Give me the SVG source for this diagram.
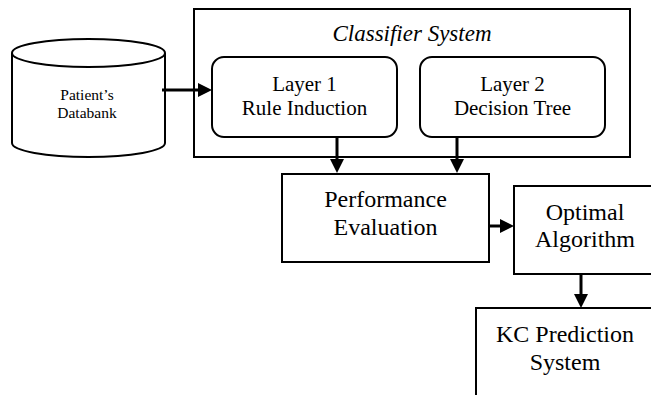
<svg xmlns="http://www.w3.org/2000/svg" width="651" height="395" viewBox="0 0 651 395">
  <style>
    .box { fill: #ffffff; stroke: #000000; stroke-width: 2; }
    .conn { stroke: #000000; stroke-width: 3; fill: none; }
    .lbl { font-family: "Liberation Serif", "Times New Roman", serif; fill: #000000; text-anchor: middle; }
    .t15 { font-size: 15.5px; }
    .t21 { font-size: 21px; }
    .t24 { font-size: 24px; }
    .title { font-size: 23px; font-style: italic; }
  </style>
  <defs>
    <marker id="arrow" markerUnits="userSpaceOnUse" markerWidth="14" markerHeight="14" refX="2" refY="7" orient="auto">
      <path d="M0,0 L14,7 L0,14 Z" fill="#000000"/>
    </marker>
  </defs>
  <rect width="651" height="395" fill="#ffffff"/>

  <g id="classifier-system">
    <rect class="box" x="194" y="9" width="436" height="148"/>
    <text class="lbl title" x="412" y="41">Classifier System</text>
  </g>

  <g id="databank">
    <path class="box" d="M12,53 L12,143 A76.5,14 0 0 0 165,143 L165,53 A76.5,14 0 0 0 12,53 Z"/>
    <path class="box" fill="none" d="M12,53 A76.5,14 0 0 0 165,53"/>
    <text class="lbl t15" x="87" y="100">Patient’s</text>
    <text class="lbl t15" x="87" y="118">Databank</text>
  </g>

  <g id="layer1">
    <rect class="box" x="212" y="57" width="185" height="80" rx="12" ry="12"/>
    <text class="lbl t21" x="304.5" y="91">Layer 1</text>
    <text class="lbl t21" x="304.5" y="115">Rule Induction</text>
  </g>

  <g id="layer2">
    <rect class="box" x="420" y="57" width="185" height="80" rx="12" ry="12"/>
    <text class="lbl t21" x="512.5" y="91">Layer 2</text>
    <text class="lbl t21" x="512.5" y="115">Decision Tree</text>
  </g>

  <g id="performance">
    <rect class="box" x="282" y="174" width="207" height="88"/>
    <text class="lbl t24" x="385.5" y="207">Performance</text>
    <text class="lbl t24" x="385.5" y="235">Evaluation</text>
  </g>

  <g id="optimal">
    <rect class="box" x="514" y="186" width="150" height="88"/>
    <text class="lbl t24" x="585" y="220">Optimal</text>
    <text class="lbl t24" x="585" y="247">Algorithm</text>
  </g>

  <g id="kc-prediction">
    <rect class="box" x="476" y="308" width="190" height="100"/>
    <text class="lbl t24" x="565" y="342">KC Prediction</text>
    <text class="lbl t24" x="565" y="370">System</text>
  </g>

  <g id="connectors">
    <line class="conn" x1="162" y1="90" x2="200" y2="90" marker-end="url(#arrow)"/>
    <line class="conn" x1="337" y1="137" x2="337" y2="161" marker-end="url(#arrow)"/>
    <line class="conn" x1="457" y1="137" x2="457" y2="161" marker-end="url(#arrow)"/>
    <line class="conn" x1="489" y1="226" x2="502" y2="226" marker-end="url(#arrow)"/>
    <line class="conn" x1="581" y1="274" x2="581" y2="296" marker-end="url(#arrow)"/>
  </g>
</svg>
